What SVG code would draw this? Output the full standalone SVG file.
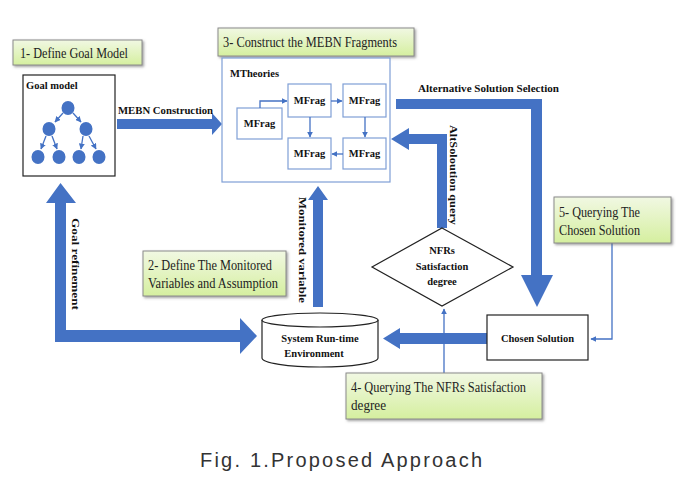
<svg xmlns="http://www.w3.org/2000/svg" width="681" height="483" viewBox="0 0 681 483">
<defs>
<linearGradient id="gl" x1="0" y1="0" x2="0" y2="1">
<stop offset="0" stop-color="#f1f8e3"/>
<stop offset="1" stop-color="#d5ef9f"/>
</linearGradient>
<marker id="ah" viewBox="0 0 10 10" refX="9" refY="5" markerWidth="6" markerHeight="6" orient="auto" markerUnits="userSpaceOnUse">
<path d="M0,0 L10,5 L0,10 z" fill="#4472c4"/>
</marker>
<filter id="sh" x="-10%" y="-10%" width="130%" height="140%">
<feDropShadow dx="1.5" dy="1.5" stdDeviation="0.8" flood-color="#666" flood-opacity="0.6"/>
</filter>
</defs>
<style>
.lbl{fill:url(#gl);stroke:#8a8a8a;stroke-width:1;filter:url(#sh)}
.lt{font-family:"Liberation Serif",serif;font-size:14px;fill:#222}
.bt{font-family:"Liberation Serif",serif;font-size:10.5px;font-weight:bold;fill:#111}
.box{fill:#fff;stroke:#222;stroke-width:1.2}
.fr{fill:#fff;stroke:#7f9fd6;stroke-width:1.2}
.big{fill:#4472c4}
.thin{fill:none;stroke:#4472c4;stroke-width:1.3}
.dot{fill:#4472c4}
.cap{font-family:"Liberation Sans",sans-serif;font-size:20px;fill:#333}
</style>
<rect width="681" height="483" fill="#fff"/>

<g id="connectors">
<polygon class="big" points="117,119 212,119 212,113 222,124 212,135 212,129 117,129"/>
<polygon class="big" points="396,99 542,99 542,275 553,275 537,307 521,275 531,275 531,109 396,109"/>
<polygon class="big" points="447,228 447,134 409,134 409,128 391,139 409,150 409,144 437,144 437,228"/>
<polygon class="big" points="487,333 400,333 400,328 383,338.5 400,349 400,344 487,344"/>
<polygon class="big" points="55,203 46,203 60.5,183 76,203 66,203 66,330 240,330 240,318 257,336 240,354 240,342 55,342"/>
<polygon class="big" points="313,307 313,200 308,200 318,186 328,200 323,200 323,307"/>
<path class="thin" d="M612,243 V339 H591" marker-end="url(#ah)"/>
<path class="thin" d="M444,373 V309" marker-end="url(#ah)"/>
<text class="bt" x="118" y="114" textLength="95" lengthAdjust="spacingAndGlyphs">MEBN Construction</text>
<text class="bt" x="418" y="92" textLength="141" lengthAdjust="spacingAndGlyphs">Alternative Solution Selection</text>
<text class="bt" transform="translate(450,125) rotate(90)" textLength="100" lengthAdjust="spacingAndGlyphs">AltSoloution query</text>
<text class="bt" transform="translate(299,197) rotate(90)" textLength="106" lengthAdjust="spacingAndGlyphs">Monitored variable</text>
<text class="bt" transform="translate(72,218) rotate(90)" textLength="92" lengthAdjust="spacingAndGlyphs">Goal refinement</text>
</g>

<g id="label1">
<rect class="lbl" x="13" y="40" width="129" height="25"/>
<text class="lt" x="20" y="58" textLength="108" lengthAdjust="spacingAndGlyphs">1- Define Goal Model</text>
</g>
<g id="label3">
<rect class="lbl" x="218" y="28" width="196" height="28"/>
<text class="lt" x="223" y="47" textLength="174" lengthAdjust="spacingAndGlyphs">3- Construct the MEBN Fragments</text>
</g>
<g id="label2">
<rect class="lbl" x="143" y="251" width="143" height="45"/>
<text class="lt" x="148" y="270" textLength="124" lengthAdjust="spacingAndGlyphs">2- Define The Monitored</text>
<text class="lt" x="148" y="288" textLength="130" lengthAdjust="spacingAndGlyphs">Variables and Assumption</text>
</g>
<g id="label5">
<rect class="lbl" x="554" y="197" width="117" height="46"/>
<text class="lt" x="559" y="217" textLength="81" lengthAdjust="spacingAndGlyphs">5- Querying The</text>
<text class="lt" x="559" y="235" textLength="81" lengthAdjust="spacingAndGlyphs">Chosen Solution</text>
</g>
<g id="label4">
<rect class="lbl" x="346" y="373" width="196" height="46"/>
<text class="lt" x="351" y="392" textLength="175" lengthAdjust="spacingAndGlyphs">4- Querying The NFRs Satisfaction</text>
<text class="lt" x="351" y="410" textLength="35" lengthAdjust="spacingAndGlyphs">degree</text>
</g>

<g id="goal-model">
<rect class="box" x="23" y="75" width="92" height="101"/>
<text class="bt" x="26" y="89">Goal model</text>
<ellipse class="dot" cx="68" cy="108" rx="6.5" ry="7"/>
<ellipse class="dot" cx="49" cy="129" rx="6.5" ry="7"/>
<ellipse class="dot" cx="86" cy="129" rx="6.5" ry="7"/>
<ellipse class="dot" cx="38" cy="157" rx="6.5" ry="7"/>
<ellipse class="dot" cx="59" cy="157" rx="6.5" ry="7"/>
<ellipse class="dot" cx="79" cy="157" rx="6.5" ry="7"/>
<ellipse class="dot" cx="99" cy="157" rx="6.5" ry="7"/>
<g class="thin" stroke-width="1">
<line x1="63" y1="113" x2="55" y2="122" marker-end="url(#ah)"/>
<line x1="73" y1="113" x2="81" y2="122" marker-end="url(#ah)"/>
<line x1="46" y1="136" x2="41" y2="149" marker-end="url(#ah)"/>
<line x1="52" y1="136" x2="57" y2="149" marker-end="url(#ah)"/>
<line x1="83" y1="136" x2="81" y2="149" marker-end="url(#ah)"/>
<line x1="89" y1="136" x2="96" y2="149" marker-end="url(#ah)"/>
</g>
</g>

<g id="mtheories">
<rect class="fr" x="222" y="58" width="168" height="124"/>
<text class="bt" x="230" y="77">MTheories</text>
<rect class="fr" x="237" y="108" width="45" height="31"/>
<text class="bt" x="259.5" y="127" text-anchor="middle">MFrag</text>
<rect class="fr" x="288" y="84" width="43" height="33"/>
<text class="bt" x="309.5" y="104" text-anchor="middle">MFrag</text>
<rect class="fr" x="343" y="84" width="43" height="33"/>
<text class="bt" x="364.5" y="104" text-anchor="middle">MFrag</text>
<rect class="fr" x="288" y="138" width="43" height="31"/>
<text class="bt" x="309.5" y="157" text-anchor="middle">MFrag</text>
<rect class="fr" x="343" y="138" width="43" height="31"/>
<text class="bt" x="364.5" y="157" text-anchor="middle">MFrag</text>
<g class="thin" stroke-width="1">
<path d="M260,108 V101 H287" marker-end="url(#ah)"/>
<path d="M331,101 H342" marker-end="url(#ah)"/>
<path d="M310,117 V137" marker-end="url(#ah)"/>
<path d="M365,117 V137" marker-end="url(#ah)"/>
<path d="M343,154 H332" marker-end="url(#ah)"/>
</g>
</g>

<g id="nfrs">
<polygon class="box" points="442,228 513,267 442,306 372,267" stroke-width="1"/>
<text class="bt" x="442" y="254" text-anchor="middle">NFRs</text>
<text class="bt" x="442" y="270" text-anchor="middle">Satisfaction</text>
<text class="bt" x="442" y="285" text-anchor="middle">degree</text>
</g>

<g id="chosen-solution">
<rect class="box" x="487" y="315" width="101" height="45"/>
<text class="bt" x="537.5" y="342" text-anchor="middle">Chosen Solution</text>
</g>

<g id="system-runtime">
<path class="box" d="M262,320 V358 A58,9 0 0 0 378,358 V320"/>
<ellipse class="box" cx="320" cy="320" rx="58" ry="7"/>
<text class="bt" x="320" y="342" text-anchor="middle">System Run-time</text>
<text class="bt" x="314" y="357" text-anchor="middle">Environment</text>
</g>

<text class="cap" x="200" y="467" textLength="282" lengthAdjust="spacing">Fig. 1.Proposed Approach</text>
</svg>
